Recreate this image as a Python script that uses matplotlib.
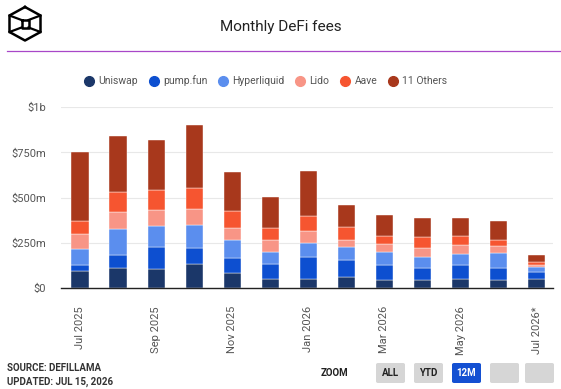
import matplotlib.pyplot as plt
from matplotlib.lines import Line2D
from matplotlib.patches import FancyBboxPatch
import numpy as np

plt.rcParams['font.family'] = ['Roboto', 'DejaVu Sans']

# данные, $m
months = ['Jul 2025', 'Aug 2025', 'Sep 2025', 'Oct 2025', 'Nov 2025', 'Dec 2025',
          'Jan 2026', 'Feb 2026', 'Mar 2026', 'Apr 2026', 'May 2026', 'Jun 2026', 'Jul 2026*']
uniswap = [92, 110, 105, 133, 83, 50, 50, 61, 44, 44, 50, 44, 50]
pumpfun = [33, 70, 120, 86, 81, 81, 121, 94, 83, 65, 77, 65, 37]
hyperliquid = [92, 146, 116, 127, 99, 66, 76, 70, 70, 60, 61, 83, 27]
lido = [81, 96, 92, 92, 70, 70, 70, 42, 48, 54, 51, 38, 15]
aave = [74, 108, 110, 116, 94, 66, 83, 68, 44, 61, 50, 37, 15]
others = [379, 310, 275, 348, 214, 170, 248, 124, 114, 103, 98, 103, 38]

series = [('Uniswap', uniswap, '#1b3769'),
          ('pump.fun', pumpfun, '#0d4fd0'),
          ('Hyperliquid', hyperliquid, '#5b8eee'),
          ('Lido', lido, '#f89586'),
          ('Aave', aave, '#f65530'),
          ('11 Others', others, '#a8381c')]

fig = plt.figure(figsize=(5.61, 3.89), dpi=100)
ax = fig.add_axes([0.1087, 0.2596, 0.877, 0.4646])

x = np.arange(len(months))
bottom = np.zeros(len(months))
for name, vals, col in series:
    ax.bar(x, vals, width=0.45, bottom=bottom, color=col, edgecolor='white', linewidth=0.3)
    bottom += np.array(vals)

ax.set_xlim(-0.5, 12.43)
ax.set_ylim(0, 1000)
ax.set_yticks([0, 250, 500, 750, 1000])
ax.set_yticklabels(['$0', '$250m', '$500m', '$750m', '$1b'])
ax.yaxis.grid(True, color='#e8e8e8', linewidth=0.8)
ax.set_axisbelow(True)
for s in ['top', 'right', 'left']:
    ax.spines[s].set_visible(False)
ax.spines['bottom'].set_color('#222222')
ax.spines['bottom'].set_linewidth(1.0)
ax.tick_params(axis='y', length=0, labelsize=8, colors='#555555', pad=11)
ax.set_xticks(x[::2])
ax.set_xticklabels(months[::2], rotation=90, ha='right', va='center', rotation_mode='anchor')
ax.tick_params(axis='x', length=0, labelsize=8, colors='#555555', pad=13)

# заголовок и линия
fig.text(0.5, 0.93, 'Monthly DeFi fees', ha='center', va='center', fontsize=11, color='#222222')
fig.add_artist(Line2D([7 / 561, 1.0], [1 - 51 / 389] * 2, color='#a847c8', linewidth=0.9))

# логотип
def px(xp, yp):
    return xp / 561, 1 - yp / 389

hexv = [(25, 7), (40.5, 15.5), (40.5, 32), (25, 40.5), (9.5, 32), (9.5, 15.5), (25, 7)]
fig.add_artist(Line2D(*zip(*[px(*p) for p in hexv]), color='black', linewidth=1.8))
sq = [(21.5, 20), (28.5, 20), (28.5, 27.5), (21.5, 27.5), (21.5, 20)]
fig.add_artist(Line2D(*zip(*[px(*p) for p in sq]), color='black', linewidth=1.8))
for a, b in [((9.5, 15.5), (21.5, 20)), ((40.5, 15.5), (28.5, 20)),
             ((9.5, 32), (21.5, 27.5)), ((40.5, 32), (28.5, 27.5))]:
    fig.add_artist(Line2D(*zip(px(*a), px(*b)), color='black', linewidth=1.6))

# легенда
handles = [Line2D([], [], marker='o', linestyle='', markersize=7, color=c) for _, _, c in series]
fig.legend(handles, [s[0] for s in series], loc='center', bbox_to_anchor=(265 / 561, 1 - 81 / 389),
           ncol=6, frameon=False, fontsize=7.5, handletextpad=0.3, columnspacing=0.9,
           labelcolor='#555555', handlelength=1.2)

# подвал
fig.text(7 / 561, 1 - 368 / 389, 'SOURCE: DEFILLAMA', fontsize=7, fontweight='bold', color='#333333', va='center')
fig.text(7 / 561, 1 - 382 / 389, 'UPDATED: JUL 15, 2026', fontsize=7, fontweight='bold', color='#333333', va='center')
fig.text(334 / 561, 1 - 373 / 389, 'ZOOM', fontsize=7, fontweight='bold', color='#222222', ha='center', va='center')

buttons = [('ALL', 376), ('YTD', 414), ('12M', 452), ('', 490), ('', 525)]
for lbl, bx in buttons:
    fc = '#1450d2' if lbl == '12M' else '#d6d6d6'
    tc = 'white' if lbl == '12M' else '#222222'
    x0, y0 = px(bx, 383)
    fig.add_artist(FancyBboxPatch((x0, y0), 29 / 561, 20 / 389, boxstyle='round,pad=0,rounding_size=0.004',
                                  transform=fig.transFigure, facecolor=fc, edgecolor='none'))
    if lbl:
        fig.text(x0 + 14.5 / 561, 1 - 373 / 389, lbl, fontsize=7, fontweight='bold', color=tc,
                 ha='center', va='center')

fig.savefig('out.png', dpi=100)
